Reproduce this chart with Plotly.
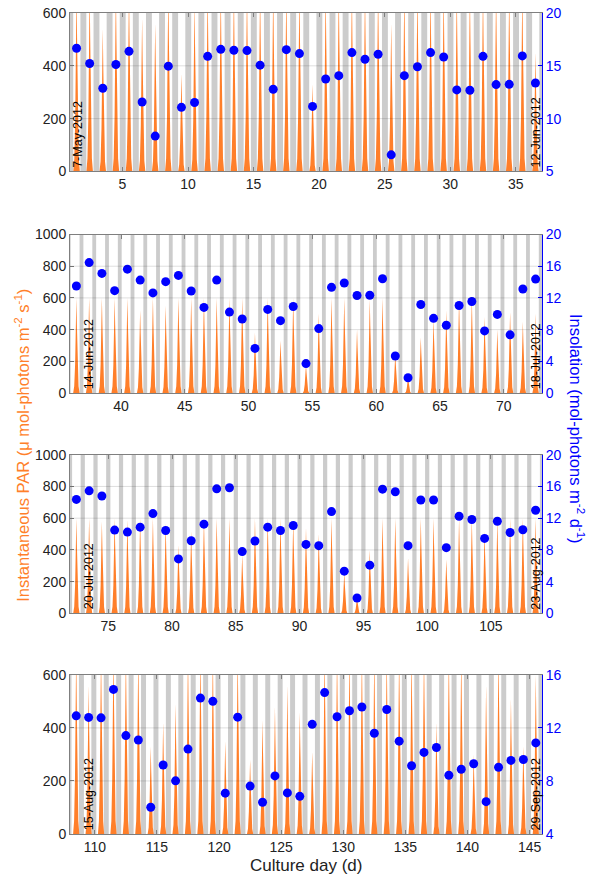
import plotly.graph_objects as go

# ---------------- data ----------------
x_ranges = [[1, 37], [36, 73], [72, 109], [108, 146]]
par_ranges = [[0, 600], [0, 1000], [0, 1000], [0, 600]]
ins_ranges = [[5, 20], [0, 20], [0, 20], [4, 16]]
par_ticks = [[0, 200, 400, 600],
             [0, 200, 400, 600, 800, 1000],
             [0, 200, 400, 600, 800, 1000],
             [0, 200, 400, 600]]
ins_ticks = [[5, 10, 15, 20],
             [0, 4, 8, 12, 16, 20],
             [0, 4, 8, 12, 16, 20],
             [4, 8, 12, 16]]
x_ticks = [[5, 10, 15, 20, 25, 30, 35],
           [40, 45, 50, 55, 60, 65, 70],
           [75, 80, 85, 90, 95, 100, 105],
           [110, 115, 120, 125, 130, 135, 140, 145]]
start_labels = ["7-May-2012", "14-Jun-2012", "20-Jul-2012", "15-Aug-2012"]
end_labels = ["12-Jun-2012", "18-Jul-2012", "23-Aug-2012", "29-Sep-2012"]
start_label_day = [1.6, 37.5, 73.55, 109.55]
end_label_day = [36.55, 72.55, 108.55, 145.55]

# daily insolation (mol-photons m-2 d-1), plotted at noon of each day
insolation_p1 = [16.66, 15.22, 12.88, 15.13, 16.37, 11.57, 8.35, 14.97, 11.07, 11.53,
                 15.9, 16.56, 16.47, 16.44, 15.06, 12.78, 16.53, 16.16, 11.16, 13.75,
                 14.07, 16.25, 15.62, 16.09, 6.57, 14.07, 14.91, 16.25, 15.84, 12.72,
                 12.69, 15.9, 13.22, 13.25, 15.94, 13.37]
insolation_p2 = [13.5, 16.46, 15.09, 12.92, 15.63, 14.25, 12.63, 14.05, 14.84, 12.88,
                 10.8, 14.25, 10.21, 9.34, 5.63, 10.55, 9.13, 10.92, 3.71, 8.13,
                 13.34, 13.88, 12.3, 12.34, 14.42, 4.67, 1.92, 11.17, 9.42, 8.55,
                 11.05, 11.55, 7.84, 9.92, 7.34, 13.13, 14.38]
insolation_p3 = [14.37, 15.45, 14.79, 10.5, 10.25, 10.87, 12.58, 10.45, 6.87, 9.16,
                 11.25, 15.7, 15.83, 7.79, 9.12, 10.87, 10.45, 11.08, 8.7, 8.54,
                 12.83, 5.33, 1.95, 6.08, 15.66, 15.33, 8.54, 14.29, 14.29, 8.29,
                 12.25, 11.83, 9.45, 11.62, 10.2, 10.54, 13.0]
insolation_p4 = [12.91, 12.79, 12.76, 14.9, 11.42, 11.09, 6.02, 9.2, 8.01, 10.4,
                 14.25, 14.0, 7.08, 12.81, 7.61, 6.39, 8.38, 7.1, 6.84, 12.27,
                 14.66, 12.84, 13.29, 13.58, 11.6, 13.39, 11.0, 9.15, 10.15, 10.52,
                 8.43, 8.88, 9.3, 6.44, 9.03, 9.55, 9.62, 10.87]

# daily peak of instantaneous PAR (umol-photons m-2 s-1)
par_peak_p1 = [700, 700, 540, 700, 700, 580, 560, 700, 370, 650,
               700, 700, 700, 700, 700, 700, 700, 700, 330, 700,
               700, 700, 700, 700, 560, 700, 700, 700, 700, 700,
               700, 700, 700, 700, 700, 450]
par_peak_p2 = [600, 600, 600, 600, 600, 520, 600, 550, 600, 600,
               600, 600, 600, 600, 380, 600, 330, 600, 180, 500,
               600, 600, 400, 590, 600, 250, 100, 350, 470, 520,
               600, 600, 480, 400, 510, 450, 500]
par_peak_p3 = [600, 600, 580, 600, 590, 600, 600, 570, 430, 520,
               600, 600, 600, 370, 600, 600, 600, 590, 540, 500,
               600, 260, 100, 400, 600, 600, 350, 600, 600, 340,
               600, 600, 520, 600, 600, 600, 600]
par_peak_p4 = [700, 560, 700, 700, 700, 700, 330, 420, 490, 700,
               700, 700, 350, 700, 280, 430, 480, 560, 460, 310,
               700, 700, 700, 700, 700, 700, 700, 700, 700, 420,
               700, 700, 300, 560, 700, 510, 330, 600]

# typical diurnal shape (offset from noon in days, fraction of daily peak)
diurnal_offset = [-0.25, -0.17, -0.1, -0.04, 0.0, 0.04, 0.1, 0.17, 0.25]
diurnal_shape = [0.0, 0.07, 0.3, 0.72, 1.0, 0.72, 0.3, 0.07, 0.0]

# dark period (grey bands): centre offset from midnight and width, in days
night_offset = [0.02, -0.1, 0.0, -0.08]
night_width = [0.45, 0.3, 0.33, 0.4]

insolation = [insolation_p1, insolation_p2, insolation_p3, insolation_p4]
par_peak = [par_peak_p1, par_peak_p2, par_peak_p3, par_peak_p4]

# ---------------- styling ----------------
ORANGE = "#FF7F2A"
BLUE = "#0000FF"
GREY = "#CCCCCC"
FRAME = "#7F7F7F"
FONT = "Liberation Sans, Arial, sans-serif"

W, H = 600, 879
ML, MR, MT, MB = 70, 58, 5, 45
plot_h = H - MT - MB
panel_px = [(5, 165), (228.7, 388.7), (451, 611.3), (673.3, 834)]


def dom(top, bot):
    return [1 - (bot - MT) / plot_h, 1 - (top - MT) / plot_h]


fig = go.Figure()
layout = dict(width=W, height=H, margin=dict(l=ML, r=MR, t=MT, b=MB),
              paper_bgcolor="white", plot_bgcolor="white", showlegend=False,
              barmode="overlay", font=dict(family=FONT, size=14, color="black"))
shapes = []
annotations = []

for k in range(4):
    n = k + 1
    xs = "x" if n == 1 else f"x{n}"
    ysL = "y" if n == 1 else f"y{n}"
    ysR = f"y{n + 4}"
    x0, x1 = x_ranges[k]
    noons = [x0 + 0.5 + i for i in range(len(insolation[k]))]

    # night bands
    nights = [d + night_offset[k] for d in range(x0, x1 + 1)]
    fig.add_trace(go.Bar(x=nights, y=[par_ranges[k][1]] * len(nights),
                         width=night_width[k], marker=dict(color=GREY, line=dict(width=0)),
                         xaxis=xs, yaxis=ysL, hoverinfo="skip"))

    # PAR traces
    px_, py_ = [], []
    for t, pk in zip(noons, par_peak[k]):
        for o, s in zip(diurnal_offset, diurnal_shape):
            px_.append(t + o)
            py_.append(pk * s)
    fig.add_trace(go.Scatter(x=px_, y=py_, mode="lines", fill="tozeroy",
                             line=dict(width=0, color=ORANGE), fillcolor=ORANGE,
                             xaxis=xs, yaxis=ysL, hoverinfo="skip"))

    # insolation dots
    fig.add_trace(go.Scatter(x=noons, y=insolation[k], mode="markers",
                             marker=dict(color=BLUE, size=9, line=dict(width=0)),
                             xaxis=xs, yaxis=ysR, cliponaxis=False))

    d = dom(*panel_px[k])
    layout[f"xaxis{'' if n == 1 else n}"] = dict(
        domain=[0, 1], anchor=ysL, range=[x0, x1], tickvals=x_ticks[k],
        ticks="inside", ticklen=4, tickcolor=FRAME, showline=True, linecolor=FRAME,
        linewidth=1, mirror="ticks", showgrid=False, zeroline=False,
        tickfont=dict(size=14, color="#222222"))
    layout[f"yaxis{'' if n == 1 else n}"] = dict(
        domain=d, anchor=xs, range=par_ranges[k], tickvals=par_ticks[k],
        ticks="inside", ticklen=4, tickcolor=FRAME, showline=True, linecolor=FRAME,
        linewidth=1, showgrid=False, zeroline=False,
        tickfont=dict(size=14, color="#222222"))
    layout[f"yaxis{n + 4}"] = dict(
        overlaying=ysL, anchor=xs, side="right", range=ins_ranges[k],
        tickvals=ins_ticks[k], ticks="inside", ticklen=4, tickcolor=BLUE,
        showline=True, linecolor=BLUE, linewidth=1, showgrid=False, zeroline=False,
        tickfont=dict(size=14, color=BLUE))

    # gridlines above the bands
    for v in par_ticks[k][1:-1]:
        shapes.append(dict(type="line", xref=f"{xs} domain", x0=0, x1=1,
                           yref=ysL, y0=v, y1=v, layer="above",
                           line=dict(color="rgba(0,0,0,0.13)", width=1)))

    annotations.append(dict(x=start_label_day[k], y=par_ranges[k][0], xref=xs, yref=ysL,
                            text=start_labels[k], textangle=-90, showarrow=False,
                            xanchor="center", yanchor="bottom", yshift=2,
                            font=dict(size=12.5, color="black")))
    annotations.append(dict(x=end_label_day[k], y=par_ranges[k][0], xref=xs, yref=ysL,
                            text=end_labels[k], textangle=-90, showarrow=False,
                            xanchor="center", yanchor="bottom", yshift=2,
                            font=dict(size=12.5, color="black")))

# axis titles
annotations.append(dict(x=(22 - ML) / (W - ML - MR), y=(H - MB - 442) / plot_h,
                        xref="paper", yref="paper", showarrow=False, textangle=-90,
                        text="Instantaneous PAR (\u03bc mol-photons m<sup>-2</sup> s<sup>-1</sup>)",
                        font=dict(size=16.5, color=ORANGE), xanchor="center", yanchor="middle"))
annotations.append(dict(x=(577 - ML) / (W - ML - MR), y=(H - MB - 425) / plot_h,
                        xref="paper", yref="paper", showarrow=False, textangle=90,
                        text="Insolation (mol-photons m<sup>-2</sup> d<sup>-1</sup>)",
                        font=dict(size=16.5, color=BLUE), xanchor="center", yanchor="middle"))
annotations.append(dict(x=(306 - ML) / (W - ML - MR), y=(H - MB - 866) / plot_h,
                        xref="paper", yref="paper", showarrow=False,
                        text="Culture day (d)", font=dict(size=17, color="#222222"),
                        xanchor="center", yanchor="middle"))

layout["shapes"] = shapes
layout["annotations"] = annotations
fig.update_layout(**layout)
fig.write_html("out.html", config={"displayModeBar": False},
               post_script="document.body.style.margin='0px';document.body.style.padding='0px';")
